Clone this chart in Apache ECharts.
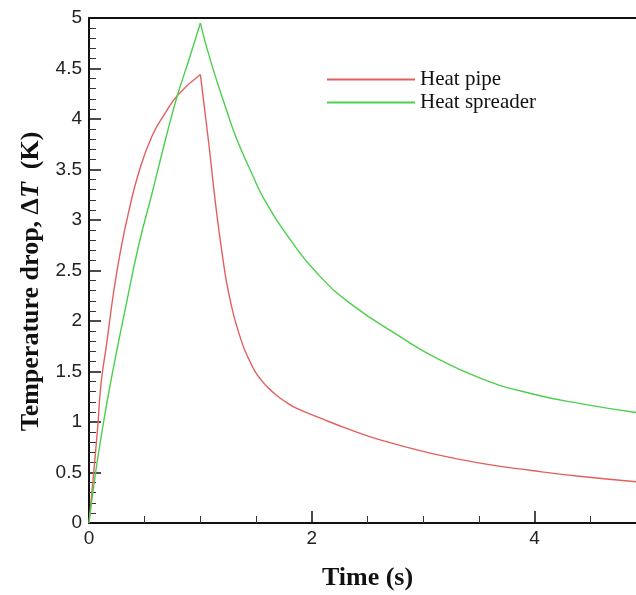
<!DOCTYPE html>
<html>
<head>
<meta charset="utf-8">
<script src="https://cdn.jsdelivr.net/npm/echarts@6/dist/echarts.min.js"></script>
<style>html,body{margin:0;padding:0;background:#fff;}#c{width:636px;height:595px;}</style>
</head>
<body>
<div id="c"></div>
<script>
var seriesNames = ['Heat pipe', 'Heat spreader'];
var heatPipeRise = [
  [0,0],[0.039,0.46],[0.078,0.95],[0.108,1.38],[0.159,1.78],[0.219,2.27],[0.279,2.67],
  [0.354,3.07],[0.444,3.46],[0.565,3.83],[0.685,4.06],[0.80,4.24],[1.0,4.44]
];
var heatPipeDecay = [
  [1.0,4.44],[1.075,3.76],[1.135,3.17],[1.195,2.67],[1.255,2.27],[1.345,1.88],[1.466,1.55],
  [1.55,1.41],[1.646,1.30],[1.75,1.21],[1.856,1.14],[2.096,1.03],[2.306,0.94],[2.622,0.82],[3.072,0.69],
  [3.523,0.59],[3.973,0.52],[4.423,0.46],[5.0,0.40]
];
var heatSpreaderRise = [
  [0,0],[0.054,0.46],[0.114,0.89],[0.204,1.45],[0.324,2.11],[0.444,2.74],[0.565,3.26],
  [0.685,3.79],[0.79,4.22],[0.895,4.58],[1.0,4.95]
];
var heatSpreaderDecay = [
  [1.0,4.95],[1.09,4.58],[1.255,4.02],[1.33,3.79],[1.466,3.45],[1.57,3.21],[1.81,2.80],
  [2.05,2.47],[2.35,2.17],[2.80,1.84],[3.072,1.66],[3.523,1.43],[3.973,1.28],[4.423,1.18],[5.0,1.08]
];
var xTicks = [0, 2, 4];
var yTicks = [0, 0.5, 1, 1.5, 2, 2.5, 3, 3.5, 4, 4.5, 5];

var RED = '#e35f5f', GREEN = '#4ccf4c';
var chart = echarts.init(document.getElementById('c'), null, {renderer: 'canvas'});
var serif = '"Liberation Serif", "Times New Roman", serif';
var sans = '"Liberation Sans", Arial, sans-serif';
function lineSeries(name, data, color) {
  return {
    name: name, type: 'line', data: data, smooth: 0.5, symbol: 'none',
    lineStyle: {color: color, width: 1.4}, itemStyle: {color: color}
  };
}
chart.setOption({
  animation: false,
  backgroundColor: '#fff',
  grid: {left: 89, top: 18, width: 557, height: 505, containLabel: false, outerBoundsMode: 'none'},
  legend: {
    orient: 'vertical', left: 322, top: 64, itemWidth: 88, itemHeight: 2, itemGap: 2,
    icon: 'rect',
    textStyle: {fontFamily: serif, fontSize: 21, lineHeight: 21, color: '#111'},
    data: seriesNames
  },
  xAxis: [{
    type: 'value', min: 0, max: 5, interval: 2,
    name: 'Time (s)', nameLocation: 'middle', nameGap: 42,
    nameTextStyle: {fontFamily: serif, fontSize: 26, fontWeight: 'bold', color: '#111'},
    axisLine: {show: true, onZero: false, lineStyle: {color: '#111', width: 2}},
    axisTick: {show: true, inside: true, length: 12, lineStyle: {color: '#111', width: 1.5}},
    minorTick: {show: true, splitNumber: 4, length: 7, lineStyle: {color: '#333', width: 1}},
    axisLabel: {show: true, fontFamily: sans, fontSize: 19, color: '#222', margin: 6,
      formatter: function (v) { return xTicks.indexOf(v) >= 0 ? String(v) : ''; }},
    splitLine: {show: false}
  }, {
    type: 'value', min: 0, max: 5, position: 'top',
    axisLine: {show: true, onZero: false, lineStyle: {color: '#111', width: 2}},
    axisTick: {show: false}, axisLabel: {show: false}, splitLine: {show: false}
  }],
  yAxis: {
    type: 'value', min: 0, max: 5, interval: 0.5,
    name: '{a|Temperature drop, Δ}{b|T}{a|  (K)}', nameLocation: 'middle', nameGap: 45, nameRotate: 90,
    nameTextStyle: {
      padding: [0, 22, 0, 0],
      rich: {
        a: {fontFamily: serif, fontSize: 26, fontWeight: 'bold', color: '#111'},
        b: {fontFamily: serif, fontSize: 26, fontWeight: 'bold', fontStyle: 'italic', color: '#111'}
      }
    },
    axisLine: {show: true, onZero: false, lineStyle: {color: '#111', width: 2}},
    axisTick: {show: true, inside: true, length: 12, lineStyle: {color: '#111', width: 1.5}},
    minorTick: {show: true, splitNumber: 5, length: 7, lineStyle: {color: '#333', width: 1}},
    axisLabel: {fontFamily: sans, fontSize: 19, color: '#222', margin: 7,
      formatter: function (v) { var r = Math.round(v * 10) / 10; return yTicks.indexOf(r) >= 0 ? String(r) : ''; }},
    splitLine: {show: false}
  },
  series: [
    lineSeries(seriesNames[0], heatPipeRise, RED),
    lineSeries(seriesNames[0], heatPipeDecay, RED),
    lineSeries(seriesNames[1], heatSpreaderRise, GREEN),
    lineSeries(seriesNames[1], heatSpreaderDecay, GREEN)
  ]
});
</script>
</body>
</html>
